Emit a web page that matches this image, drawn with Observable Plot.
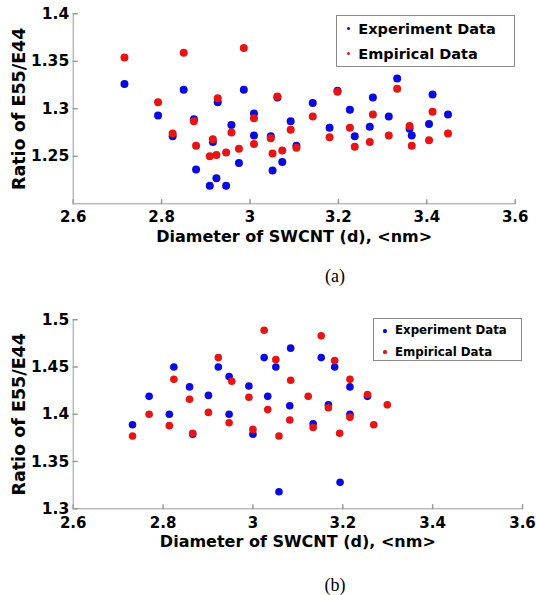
<!DOCTYPE html>
<html><head><meta charset="utf-8">
<script src="https://cdn.jsdelivr.net/npm/d3@7"></script>
<script src="https://cdn.jsdelivr.net/npm/@observablehq/plot@0.6"></script>
<style>
body{margin:0;background:#fff;}
#page{position:relative;width:536px;height:595px;overflow:hidden;background:#fff;}
.panel{position:absolute;left:0;}
.cap{position:absolute;font-family:"Liberation Serif","Times New Roman",serif;font-size:18px;line-height:18px;width:100px;text-align:center;color:#000;}
.legend{position:absolute;border:1px solid #8a8a8a;background:#fff;box-sizing:border-box;}
.legend .row{position:absolute;font-family:"DejaVu Sans",sans-serif;font-weight:bold;color:#000;white-space:nowrap;}
.legend .dot{position:absolute;border-radius:50%;}
</style></head><body>
<div id="page"></div>
<script>
// ---------- data ----------
const seriesNames = ["Experiment Data", "Empirical Data"];
const xLabel = "Diameter of SWCNT (d), <nm>";
const yLabel = "Ratio of E55/E44";
const captions = ["(a)", "(b)"];
const xTicks = [2.6, 2.8, 3, 3.2, 3.4, 3.6];
const xDomain = [2.6, 3.6];
const yTicksA = [1.25, 1.3, 1.35, 1.4];
const yDomainA = [1.2, 1.4];
const yTicksB = [1.3, 1.35, 1.4, 1.45, 1.5];
const yDomainB = [1.3, 1.5];

// Panel (a)
const expAx = [2.716,2.792,2.825,2.850,2.873,2.878,2.909,2.916,2.924,2.927,2.946,2.958,2.975,2.986,3.009,3.009,3.047,3.051,3.062,3.073,3.092,3.105,3.142,3.180,3.198,3.226,3.237,3.271,3.278,3.314,3.333,3.361,3.366,3.405,3.413,3.448];
const expAy = [1.326,1.293,1.271,1.320,1.289,1.236,1.219,1.265,1.227,1.307,1.219,1.283,1.243,1.320,1.295,1.272,1.271,1.235,1.312,1.244,1.287,1.261,1.306,1.280,1.319,1.299,1.271,1.281,1.312,1.292,1.332,1.279,1.272,1.284,1.315,1.294];
const empAx = [2.716,2.792,2.825,2.850,2.873,2.878,2.909,2.916,2.924,2.927,2.946,2.958,2.975,2.986,3.009,3.009,3.047,3.051,3.062,3.073,3.092,3.105,3.142,3.180,3.198,3.226,3.237,3.271,3.278,3.314,3.333,3.361,3.366,3.405,3.413,3.448];
const empAy = [1.354,1.307,1.274,1.359,1.287,1.261,1.250,1.268,1.2515,1.311,1.254,1.275,1.258,1.364,1.290,1.263,1.269,1.253,1.313,1.256,1.278,1.259,1.292,1.270,1.318,1.280,1.260,1.265,1.294,1.272,1.321,1.282,1.261,1.267,1.297,1.274];

// Panel (b)
const expBx = [2.732,2.769,2.814,2.824,2.859,2.866,2.901,2.923,2.947,2.947,2.991,3.000,3.025,3.033,3.051,3.058,3.084,3.082,3.134,3.152,3.168,3.182,3.194,3.216,3.216,3.255];
const expBy = [1.389,1.419,1.400,1.450,1.429,1.379,1.420,1.450,1.440,1.400,1.430,1.379,1.460,1.419,1.450,1.318,1.470,1.409,1.390,1.460,1.410,1.450,1.328,1.429,1.400,1.419];
const empBx = [2.732,2.769,2.814,2.824,2.859,2.866,2.901,2.923,2.953,2.947,2.991,3.000,3.025,3.033,3.051,3.058,3.084,3.082,3.123,3.134,3.152,3.168,3.182,3.193,3.216,3.216,3.255,3.269,3.299];
const empBy = [1.377,1.400,1.388,1.437,1.416,1.380,1.402,1.460,1.435,1.391,1.418,1.384,1.489,1.405,1.458,1.377,1.436,1.394,1.419,1.386,1.483,1.407,1.457,1.380,1.437,1.397,1.421,1.389,1.410];

// ---------- style ----------
const blue = "#0a0ae0";
const red = "#e81414";
const axisColor = "#9a9a9a";
const fmt = d => String(+(+d).toFixed(2));
const tickUp = {draw(ctx, l) { ctx.moveTo(0, 0); ctx.lineTo(0, -l); }};
const zip = (xs, ys) => xs.map((x, i) => ({x, y: ys[i]}));

function makePlot(c) {
  return Plot.plot({
    width: 536, height: c.height,
    marginLeft: 72.7, marginRight: c.mr, marginTop: c.mt, marginBottom: c.mb,
    x: {domain: xDomain},
    y: {domain: c.yDomain},
    style: {fontFamily: "'DejaVu Sans', sans-serif", fontWeight: "bold", color: "#000", background: "transparent", overflow: "visible"},
    marks: [
      Plot.ruleY([c.yDomain[0]], {stroke: axisColor}),
      Plot.ruleX([xDomain[0]], {stroke: axisColor}),
      Plot.vector(xTicks, {x: d => d, y: () => c.yDomain[0], length: 4, rotate: 0, anchor: "start", shape: tickUp, stroke: axisColor}),
      Plot.vector(c.yTicks, {x: () => xDomain[0], y: d => d, length: 4, rotate: 90, anchor: "start", shape: tickUp, stroke: axisColor}),
      Plot.axisX({ticks: xTicks, tickSize: 0, tickPadding: c.xPad, tickFormat: fmt, fontSize: c.tf, label: null}),
      Plot.axisY({ticks: c.yTicks, tickSize: 0, tickPadding: 4, tickFormat: fmt, fontSize: 15.5, label: null}),
      Plot.dot(c.exp, {x: "x", y: "y", r: c.r, fill: blue}),
      Plot.dot(c.emp, {x: "x", y: "y", r: c.r, fill: red}),
      Plot.text([yLabel], {frameAnchor: "left", rotate: -90, dx: -48, lineAnchor: "bottom", textAnchor: "middle", fontSize: 17.5}),
      Plot.text([xLabel], {frameAnchor: "bottom", dy: c.xlDy, lineAnchor: "bottom", textAnchor: "middle", fontSize: 16})
    ]
  });
}

const page = document.getElementById("page");

function addPanel(top, plot) {
  const d = document.createElement("div");
  d.className = "panel";
  d.style.top = top + "px";
  d.appendChild(plot);
  page.appendChild(d);
}

function addCaption(text, top) {
  const d = document.createElement("div");
  d.className = "cap";
  d.style.left = "285px";
  d.style.top = top + "px";
  d.textContent = text;
  page.appendChild(d);
}

function addLegend(box, fontSize, rows) {
  const L = document.createElement("div");
  L.className = "legend";
  L.style.left = box.left + "px"; L.style.top = box.top + "px";
  L.style.width = box.w + "px"; L.style.height = box.h + "px";
  seriesNames.forEach((name, i) => {
    const r = rows[i];
    const dot = document.createElement("div");
    dot.className = "dot";
    const dr = 1.6;
    dot.style.width = dot.style.height = (2 * dr) + "px";
    dot.style.left = (box.dotX - dr) + "px";
    dot.style.top = (r.dotY - dr) + "px";
    dot.style.background = i === 0 ? blue : red;
    L.appendChild(dot);
    const t = document.createElement("div");
    t.className = "row";
    t.style.fontSize = fontSize + "px";
    t.style.lineHeight = "20px";
    t.style.left = box.textX + "px";
    t.style.top = (r.textY - 10) + "px";
    t.textContent = name;
    L.appendChild(t);
  });
  page.appendChild(L);
}

addPanel(0, makePlot({height: 260, mt: 13.3, mb: 56.7, mr: 21.3, yDomain: yDomainA, yTicks: yTicksA,
  exp: zip(expAx, expAy), emp: zip(empAx, empAy), r: 4, xPad: 8, tf: 15, xlDy: 37.8}));
addPanel(300, makePlot({height: 250, mt: 19.3, mb: 41.7, mr: 14, yDomain: yDomainB, yTicks: yTicksB,
  exp: zip(expBx, expBy), emp: zip(empBx, empBy), r: 3.8, xPad: 9, tf: 15, xlDy: 38.3}));

addCaption(captions[0], 267);
addCaption(captions[1], 576);

addLegend({left: 336, top: 14.7, w: 179, h: 52, dotX: 11.3, textX: 21.3}, 14.5,
  [{dotY: 13, textY: 13.8}, {dotY: 38, textY: 38.5}]);
addLegend({left: 373.3, top: 318.3, w: 148.4, h: 42.7, dotX: 10.7, textX: 20.7}, 11.8,
  [{dotY: 11.7, textY: 11}, {dotY: 32.7, textY: 32.4}]);
</script></body></html>
